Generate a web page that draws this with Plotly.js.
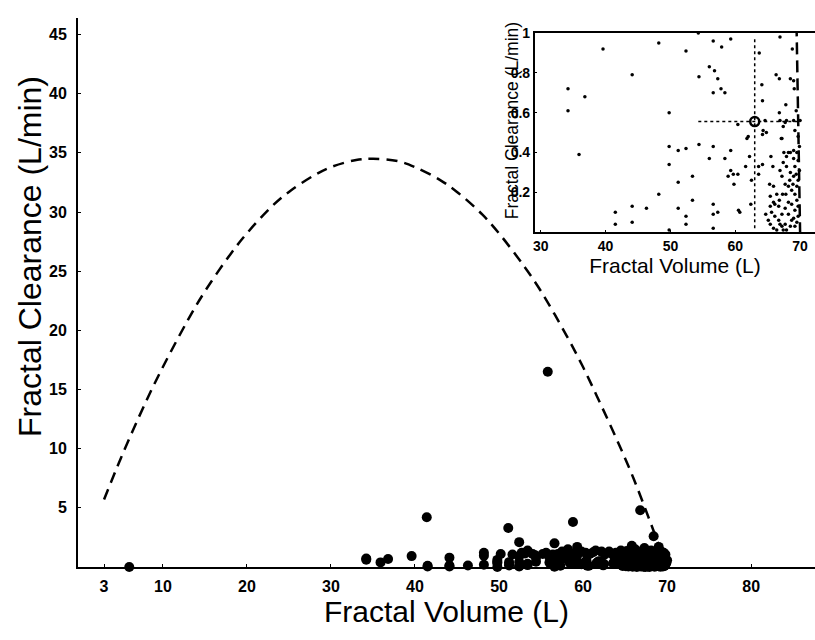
<!DOCTYPE html>
<html>
<head>
<meta charset="utf-8">
<script src="https://cdn.plot.ly/plotly-3.0.1.min.js"></script>
<style>
  html, body { margin: 0; padding: 0; background: #ffffff; }
  #chart { width: 815px; height: 640px; }
</style>
</head>
<body>
<div id="chart"></div>
<script>
// ---- Dashed boundary curve ----
const curveVolume    = [3, 5, 8, 10, 13, 15, 18, 20, 23, 25, 28, 30, 33, 35, 38, 40, 43, 45, 48, 50, 53, 55, 58, 60, 62, 64, 66, 68, 69, 69.5, 70];
const curveClearance = [5.7, 9.2, 14.0, 16.9, 20.9, 23.3, 26.4, 28.2, 30.5, 31.7, 33.1, 33.8, 34.4, 34.5, 34.3, 33.8, 32.7, 31.7, 29.8, 28.2, 25.4, 23.3, 19.6, 16.9, 13.9, 10.8, 7.5, 3.8, 1.9, 1.0, 0];

// ---- Scattered observations (volume L, clearance L/min) ----
const pointVolume = [
  6.0, 55.8, 41.4, 51.1, 58.8, 66.8, 68.4, 52.4, 56.6, 59.3, 61.5, 62.2, 65.8, 53.4, 52.7, 48.2,
  57.5, 58.2, 60.3, 63.5, 64.5, 66.2, 67.3, 68.1, 69.0, 69.6, 55.2, 54.3,
  55.6, 56.4, 57.0, 58.6, 59.8, 60.8, 61.2, 62.6, 63.1, 63.9, 64.9, 65.2, 65.5, 66.5, 67.0, 67.6,
  68.0, 68.6, 69.3, 69.8, 50.2, 51.6, 53.1, 54.0,
  34.2, 34.2, 36.8, 35.9, 39.6, 44.1, 41.5, 41.5, 44.1, 44.1, 46.3, 48.2, 48.2, 49.8, 49.8, 49.8, 49.8,
  51.2, 51.2, 51.2, 52.4, 52.4, 52.4, 52.4, 53.4, 53.4, 54.4, 54.4, 56.0, 56.0, 56.6, 56.8, 57.3,
  56.6, 56.6, 56.6, 56.6, 57.3, 56.6, 57.9, 59.3, 57.8, 58.4, 58.4, 59.3, 58.9, 59.7, 60.4, 59.3,
  59.8, 60.5, 60.7, 60.4, 61.8, 62.0, 61.6, 62.2, 62.5, 62.4, 63.7, 64.1, 64.2, 64.6, 64.3, 64.2,
  64.8, 63.6, 64.2, 63.6, 64.7, 65.3, 65.5, 65.8, 66.3, 66.9, 66.8, 66.8, 66.9, 67.2, 67.4, 67.7,
  67.9, 68.5, 68.8, 69.0, 69.1, 69.4, 69.2, 69.0, 67.8, 67.1,
  65.9, 65.4, 66.1, 66.7, 67.2, 67.7, 68.2, 68.7, 69.2, 69.5, 69.7, 69.7, 69.5, 69.2, 68.7, 68.2,
  67.7, 67.2, 66.9, 67.4, 67.9, 68.5, 69.0, 69.5, 69.7, 69.9, 69.7, 69.5, 69.0, 68.5, 67.9, 67.5,
  68.2, 69.0, 69.2, 66.4, 65.9, 65.4, 66.7, 67.2, 67.7, 68.2, 68.7, 69.2, 69.0, 68.5, 67.9, 67.4,
  66.9, 66.4, 65.9, 65.4, 65.1, 65.6, 66.1, 66.8, 67.3, 67.8, 68.4, 68.9, 69.4, 69.9, 69.7, 70.0
];
const pointClearance = [
  0.0, 16.5, 4.2, 3.3, 3.8, 4.8, 2.6, 2.1, 2.0, 1.7, 1.4, 1.3, 1.8, 1.4, 1.2, 1.2,
  1.3, 1.5, 1.2, 1.1, 1.4, 1.5, 1.6, 1.4, 1.7, 1.2, 1.1, 1.0,
  1.2, 1.05, 1.1, 1.15, 1.3, 1.1, 1.25, 1.05, 1.3, 1.2, 1.1, 1.35, 1.05, 1.2, 1.3, 1.1,
  1.25, 1.15, 1.3, 1.05, 1.1, 1.05, 1.15, 1.1,
  0.72, 0.61, 0.68, 0.39, 0.92, 0.79, 0.10, 0.04, 0.13, 0.05, 0.12, 0.95, 0.19, 0.60, 0.43, 0.34, 0.01,
  0.41, 0.25, 0.12, 0.91, 0.42, 0.08, 0.04, 0.28, 0.16, 0.78, 0.44, 0.83, 0.37, 0.96, 0.81, 0.77,
  0.70, 0.43, 0.14, 0.09, 0.10, 0.02, 0.93, 0.97, 0.72, 0.70, 0.37, 0.41, 0.28, 0.29, 0.29, 0.31,
  0.24, 0.11, 0.10, 0.54, 0.47, 0.48, 0.33, 0.38, 0.26, 0.14, 0.90, 0.74, 0.66, 0.56, 0.51, 0.49,
  0.50, 0.29, 0.34, 0.33, 0.09, 0.24, 0.38, 0.33, 0.79, 0.98, 0.77, 0.60, 0.56, 0.47, 0.53, 0.55,
  0.56, 0.77, 0.92, 0.76, 0.72, 0.61, 0.51, 0.56, 0.64, 0.47,
  0.15, 0.13, 0.08, 0.06, 0.03, 0.04, 0.09, 0.06, 0.03, 0.05, 0.08, 0.13, 0.16, 0.19, 0.21, 0.23,
  0.24, 0.28, 0.31, 0.35, 0.38, 0.40, 0.41, 0.40, 0.36, 0.31, 0.26, 0.23, 0.28, 0.30, 0.33, 0.40,
  0.40, 0.37, 0.33, 0.19, 0.23, 0.18, 0.13, 0.09, 0.12, 0.15, 0.14, 0.11, 0.07, 0.03, 0.01, 0.01,
  0.04, 0.01, 0.02, 0.04, 0.06, 0.10, 0.14, 0.16, 0.19, 0.19, 0.26, 0.24, 0.29, 0.43, 0.48, 0.56
];

// ---- Highlighted point in the inset and its dotted guides ----
const highlightVolume    = [63.0];
const highlightClearance = [0.555];
const guideVolumeSpan    = [54.3, 70.0];
const guideClearanceSpan = [0.02, 0.97];

// ---- Tick labels ----
const mainXTicks  = [3, 10, 20, 30, 40, 50, 60, 70, 80];
const mainYTicks  = [5, 10, 15, 20, 25, 30, 35, 40, 45];
const insetXTicks = [30, 40, 50, 60, 70];
const insetYTicks = [0.2, 0.4, 0.6, 0.8, 1];
const insetYText  = ['0.2', '0.4', '0.6', '0.8', '1'];

const FONT = 'Liberation Sans, Arial, Helvetica, sans-serif';
const tickFont = { family: FONT, size: 16, color: '#000', weight: 'bold' };
const insetTickFont = { family: FONT, size: 14, color: '#000', weight: 'bold' };

const traces = [
  { x: curveVolume, y: curveClearance, type: 'scatter', mode: 'lines',
    line: { color: '#000', width: 2.5, dash: '11px,7px', shape: 'spline', smoothing: 1 }, hoverinfo: 'skip' },
  { x: pointVolume, y: pointClearance, type: 'scatter', mode: 'markers', cliponaxis: false,
    marker: { color: '#000', size: 10, line: { width: 0 } } },
  { x: curveVolume, y: curveClearance, xaxis: 'x2', yaxis: 'y2', type: 'scatter', mode: 'lines',
    line: { color: '#000', width: 2.5, dash: '12px,6px' } },
  { x: pointVolume, y: pointClearance, xaxis: 'x2', yaxis: 'y2', type: 'scatter', mode: 'markers',
    marker: { color: '#000', size: 3.5, line: { width: 0 } } },
  { x: [highlightVolume[0], highlightVolume[0]], y: guideClearanceSpan, xaxis: 'x2', yaxis: 'y2',
    type: 'scatter', mode: 'lines', line: { color: '#000', width: 1.5, dash: 'dot' } },
  { x: guideVolumeSpan, y: [highlightClearance[0], highlightClearance[0]], xaxis: 'x2', yaxis: 'y2',
    type: 'scatter', mode: 'lines', line: { color: '#000', width: 1.5, dash: 'dot' } },
  { x: highlightVolume, y: highlightClearance, xaxis: 'x2', yaxis: 'y2', type: 'scatter', mode: 'markers',
    marker: { symbol: 'circle-open', size: 9, color: '#000', line: { width: 2.5, color: '#000' } } }
];

const layout = {
  width: 815, height: 640,
  margin: { l: 78, r: 0, t: 18, b: 73 },
  paper_bgcolor: '#fff', plot_bgcolor: '#fff',
  showlegend: false,
  font: { family: FONT, color: '#000' },
  xaxis: {
    range: [-0.1, 87.6], tickvals: mainXTicks, ticks: 'inside', ticklen: 3, tickcolor: '#000',
    showline: true, linecolor: '#000', linewidth: 2, showgrid: false, zeroline: false,
    tickfont: tickFont, ticklabelstandoff: 4, automargin: false,
    title: { text: 'Fractal Volume (L)', font: { family: FONT, size: 30, color: '#000' }, standoff: 1 }
  },
  yaxis: {
    range: [0, 46.4], tickvals: mainYTicks, ticks: 'inside', ticklen: 3, tickcolor: '#000',
    showline: true, linecolor: '#000', linewidth: 2, showgrid: false, zeroline: false,
    tickfont: tickFont, ticklabelstandoff: 6, automargin: false
  },
  xaxis2: {
    domain: [0.620, 1], anchor: 'y2', range: [29.1, 72.3], tickvals: insetXTicks,
    ticks: 'inside', ticklen: 2, tickcolor: '#000',
    showline: true, mirror: true, linecolor: '#000', linewidth: 2, showgrid: false, zeroline: false,
    tickfont: insetTickFont, automargin: false,
    title: { text: 'Fractal Volume (L)', font: { family: FONT, size: 21, color: '#000' }, standoff: 0 }
  },
  yaxis2: {
    domain: [0.610, 0.9727], anchor: 'x2', range: [0, 1], tickvals: insetYTicks, ticktext: insetYText,
    ticks: 'inside', ticklen: 2, tickcolor: '#000',
    showline: true, mirror: true, linecolor: '#000', linewidth: 2, showgrid: false, zeroline: false,
    tickfont: insetTickFont, automargin: false
  },
  annotations: [
    { text: 'Fractal Clearance (L/min)', xref: 'paper', yref: 'paper', x: -0.0651, y: 0.5647,
      textangle: -90, showarrow: false, xanchor: 'center', yanchor: 'middle',
      font: { family: FONT, size: 32, color: '#000' } },
    { text: 'Fractal Clearance (L/min)', xref: 'paper', yref: 'paper', x: 0.589, y: 0.812,
      textangle: -90, showarrow: false, xanchor: 'center', yanchor: 'middle',
      font: { family: FONT, size: 17.5, color: '#000' } }
  ]
};

Plotly.newPlot('chart', traces, layout, { displayModeBar: false, staticPlot: true });
</script>
</body>
</html>
